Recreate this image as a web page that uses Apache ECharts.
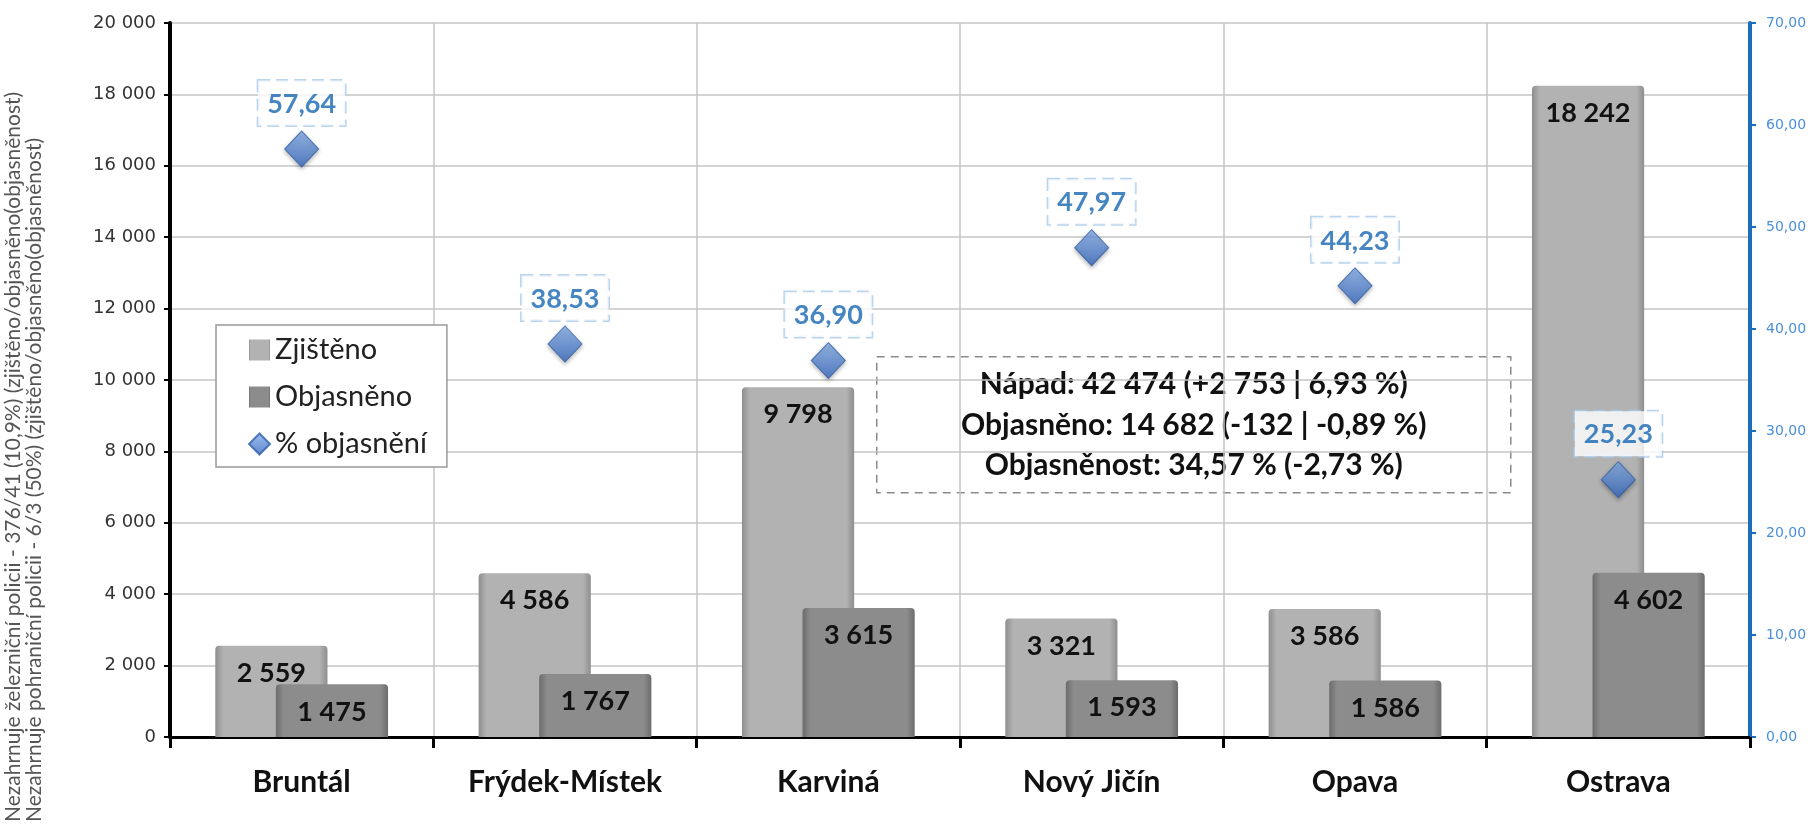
<!DOCTYPE html>
<html>
<head>
<meta charset="utf-8">
<script src="https://cdn.jsdelivr.net/npm/echarts@6/dist/echarts.min.js"></script>
<style>
  html, body { margin: 0; padding: 0; background: #fff; }
  #chart { width: 1814px; height: 824px; }
</style>
</head>
<body>
<div id="chart"></div>
<script>
// okresy
const categories = ['Bruntál', 'Frýdek-Místek', 'Karviná', 'Nový Jičín', 'Opava', 'Ostrava']
const zjisteno = [2559, 4586, 9798, 3321, 3586, 18242]
const objasneno = [1475, 1767, 3615, 1593, 1586, 4602]
const procenta = [57.64, 38.53, 36.90, 47.97, 44.23, 25.23]

const souhrn = [
  'Nápad: 42 474 (+2 753 | 6,93 %)',
  'Objasněno: 14 682 (-132 | -0,89 %)',
  'Objasněnost: 34,57 % (-2,73 %)'
]
const poznamky = [
  'Nezahrnuje železniční policii - 376/41 (10,9%) (zjištěno/objasněno(objasněnost)',
  'Nezahrnuje pohraniční policii - 6/3 (50%) (zjištěno/objasněno(objasněnost)'
]

// 12345 -> "12 345"
const tisice = (v) => String(v).replace(/\B(?=(\d{3})+(?!\d))/g, ' ')
const carka = (v) => v.toFixed(2).replace('.', ',')

const chart = echarts.init(document.getElementById('chart'))

const barGrad = (edge, mid) => ({
  type: 'linear', x: 0, y: 0, x2: 1, y2: 0,
  colorStops: [
    { offset: 0, color: edge },
    { offset: 0.07, color: mid },
    { offset: 0.93, color: mid },
    { offset: 1, color: edge },
  ],
})

const barLabel = {
  show: true,
  position: 'insideTop',
  distance: 14,
  fontSize: 27,
  fontWeight: 'bold',
  color: '#111',
  formatter: (p) => tisice(p.value),
}

const option = {
  animation: false,
  textStyle: { fontFamily: 'Lato' },
  grid: { left: 170, right: 64, top: 23, bottom: 87 },
  legend: {
    orient: 'vertical',
    left: 216,
    top: 325,
    padding: [10, 20, 8, 32],
    itemGap: 17,
    itemWidth: 21,
    itemHeight: 21,
    backgroundColor: '#fff',
    borderColor: '#9a9a9a',
    borderWidth: 1.5,
    textStyle: { fontSize: 29, color: '#222', lineHeight: 30 },
    data: [
      { name: 'Zjištěno', icon: 'rect' },
      { name: 'Objasněno', icon: 'rect' },
      { name: '% objasnění', icon: 'diamond' },
    ],
  },
  xAxis: {
    type: 'category',
    data: categories,
    axisLine: { lineStyle: { color: '#000', width: 3 } },
    axisTick: { show: true, length: 11, lineStyle: { color: '#000', width: 3 } },
    axisLabel: { fontSize: 30, fontWeight: 'bold', color: '#111', margin: 30 },
    splitLine: { show: true, lineStyle: { color: '#c4c4c4', width: 1.5 } },
  },
  yAxis: [
    {
      type: 'value',
      min: 0,
      max: 20000,
      interval: 2000,
      axisLine: { show: true, lineStyle: { color: '#000', width: 4 } },
      axisTick: { show: true, length: 6, lineStyle: { color: '#000', width: 2 } },
      axisLabel: {
        fontFamily: 'DejaVu Sans',
        fontSize: 18,
        color: '#333',
        margin: 14,
        formatter: (v) => tisice(v),
      },
      splitLine: { lineStyle: { color: '#c4c4c4', width: 1.5 } },
    },
    {
      type: 'value',
      min: 0,
      max: 70,
      interval: 10,
      position: 'right',
      axisLine: { show: true, lineStyle: { color: '#1a6ebd', width: 4 } },
      axisTick: { show: true, length: 6, lineStyle: { color: '#1a6ebd', width: 2 } },
      axisLabel: {
        fontFamily: 'DejaVu Sans',
        fontSize: 14,
        color: '#4a90d9',
        margin: 16,
        formatter: (v) => carka(v),
      },
      splitLine: { show: false },
    },
  ],
  series: [
    {
      name: 'Zjištěno',
      type: 'bar',
      data: zjisteno,
      barWidth: '42.6%',
      barGap: '-46%',
      itemStyle: { color: barGrad('#8e8e8e', '#b2b2b2'), borderRadius: [4, 4, 0, 0] },
      label: barLabel,
    },
    {
      name: 'Objasněno',
      type: 'bar',
      data: objasneno,
      barWidth: '42.6%',
      itemStyle: { color: barGrad('#6c6c6c', '#8c8c8c'), borderRadius: [4, 4, 0, 0] },
      label: barLabel,
    },
    {
      name: '% objasnění',
      type: 'scatter',
      yAxisIndex: 1,
      data: procenta,
      symbol: 'diamond',
      symbolSize: [34, 36],
      z: 5,
      itemStyle: {
        color: {
          type: 'linear', x: 0, y: 0, x2: 0, y2: 1,
          colorStops: [
            { offset: 0, color: '#86b0ec' },
            { offset: 1, color: '#3567bd' },
          ],
        },
        borderColor: '#2f5ea8',
        borderWidth: 1,
        shadowColor: 'rgba(0,0,0,0.35)',
        shadowBlur: 4,
        shadowOffsetY: 2,
      },
      label: {
        show: true,
        position: 'top',
        distance: 5,
        fontSize: 27,
        fontWeight: 'bold',
        color: '#1766b3',
        backgroundColor: '#fff',
        borderColor: '#a9c9e8',
        borderWidth: 1.5,
        borderType: 'dashed',
        padding: [10, 9, 8, 9],
        formatter: (p) => carka(p.value),
      },
    },
  ],
  graphic: [
    {
      type: 'group',
      left: 876,
      top: 356,
      children: [
        {
          type: 'rect',
          shape: { x: 0, y: 0, width: 634, height: 136 },
          style: { fill: '#fff', stroke: '#8a8a8a', lineWidth: 1.5, lineDash: [8, 6] },
        },
        ...souhrn.map((t, i) => ({
          type: 'text',
          x: 317,
          y: 28 + i * 40.5,
          style: {
            text: t,
            fontFamily: 'Lato',
            fontSize: 30,
            fontWeight: 'bold',
            fill: '#111',
            textAlign: 'center',
            textVerticalAlign: 'middle',
          },
        })),
      ],
    },
    ...poznamky.map((t, i) => ({
      type: 'text',
      x: 13 + i * 21,
      y: 822,
      rotation: Math.PI / 2,
      style: {
        text: t,
        fontFamily: 'Lato',
        fontSize: 21,
        fill: '#555',
        textAlign: 'left',
        textVerticalAlign: 'middle',
      },
    })),
  ],
}

chart.setOption(option)
</script>
</body>
</html>
